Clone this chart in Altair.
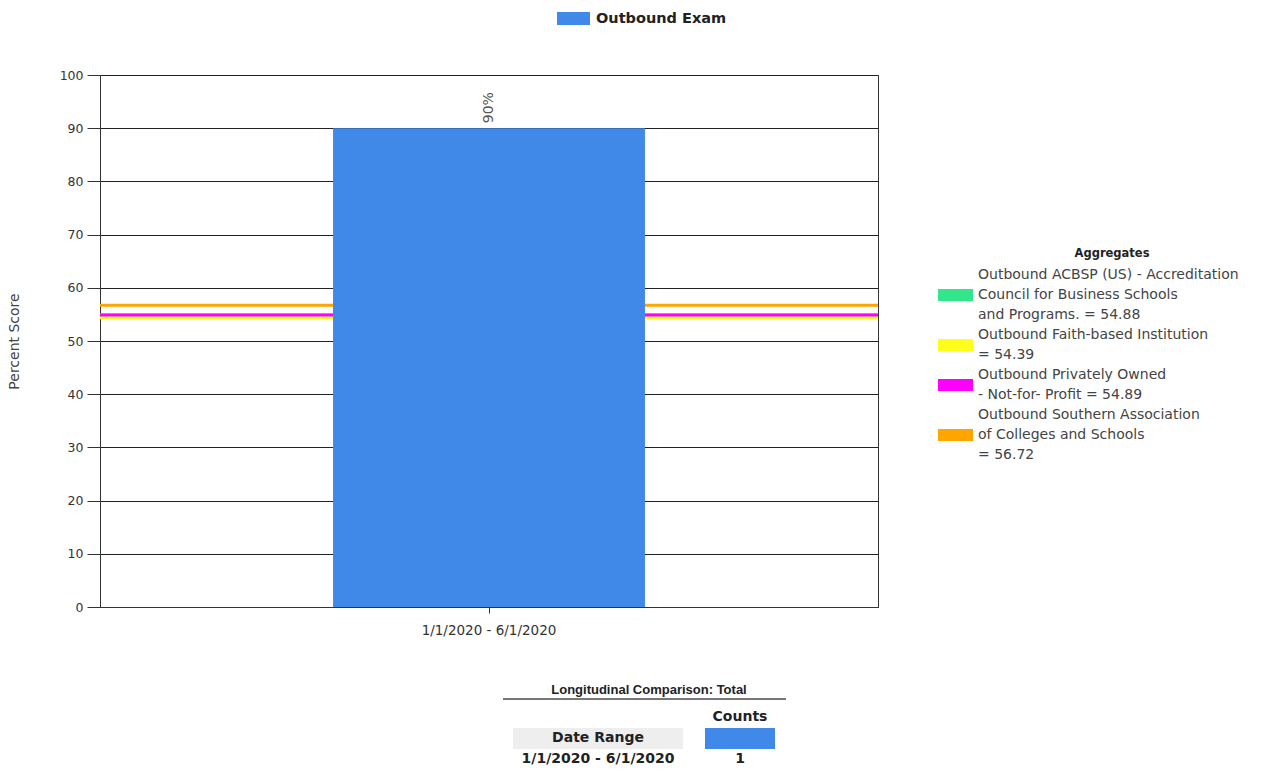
import altair as alt
import pandas as pd

# Exam series (one date range)
date_ranges = ["1/1/2020 - 6/1/2020"]
exam_scores = [90]
exam_series = "Outbound Exam"
exam_counts = [1]

# Aggregate benchmark lines (names are pre-wrapped for the legend)
aggregate_names = [
    "Outbound ACBSP (US) -  Accreditation\nCouncil for Business  Schools\nand  Programs.",
    "Outbound Faith-based  Institution\n",
    "Outbound Privately  Owned\n-  Not-for-  Profit",
    "Outbound Southern  Association\nof Colleges and Schools\n",
]
aggregate_values = [54.88, 54.39, 54.89, 56.72]
aggregate_colors = ["#33E68C", "#FFFF1A", "#FF00FF", "#FFA500"]

legend_title = "Aggregates"
table_title = "Longitudinal Comparison: Total"

bar_blue = "#4189E8"
font = "DejaVu Sans"

# Legend block geometry (plot-area pixel coordinates)
LEG_X = 838          # swatch left edge
LEG_SW = 35          # swatch width
LEG_SH = 12          # swatch height
LEG_TEXT_X = 878     # label left edge
LEG_Y0 = 200         # centre of first label line
LEG_LH = 20          # label line height


def legend_label(name, value):
    sep = "= " if name.endswith("\n") else " = "
    return f"{name}{sep}{value:.2f}"


agg_labels = [legend_label(n, v) for n, v in zip(aggregate_names, aggregate_values)]

# One row per legend text line, plus one swatch row per entry
line_rows, swatch_rows = [], []
k = 0
for label, color in zip(agg_labels, aggregate_colors):
    lines = label.split("\n")
    for i, ln in enumerate(lines):
        line_rows.append({"text": ln, "py": LEG_Y0 + LEG_LH * (k + i)})
    mid = LEG_Y0 + LEG_LH * (k + (len(lines) - 1) / 2)
    swatch_rows.append({"label": label, "color": color,
                        "y1": mid - LEG_SH / 2, "y2": mid + LEG_SH / 2})
    k += len(lines)
legend_lines_df = pd.DataFrame(line_rows)
legend_swatch_df = pd.DataFrame(swatch_rows)

bars_df = pd.DataFrame({
    "range": date_ranges,
    "score": exam_scores,
    "series": [exam_series] * len(date_ranges),
    "pct": [f"{s}%" for s in exam_scores],
})
agg_df = pd.DataFrame({"label": agg_labels, "value": aggregate_values})
table_df = pd.DataFrame({"range": date_ranges[:1], "count": [str(c) for c in exam_counts[:1]]})

x_enc = alt.X(
    "range:N",
    scale=alt.Scale(paddingInner=0, paddingOuter=0.747),
    axis=alt.Axis(title=None, labelAngle=0, tickSize=6, labelPadding=10,
                  labelFontSize=13.5, labelColor="#333", domainColor="#333",
                  tickColor="#333"),
)
y_enc = alt.Y(
    "score:Q",
    scale=alt.Scale(domain=[0, 100], nice=False),
    axis=alt.Axis(title="Percent Score", values=list(range(0, 101, 10)),
                  grid=True, gridColor="#222", gridOpacity=1,
                  tickSize=13, labelPadding=4, labelFontSize=12.5, labelColor="#333",
                  domainColor="#333", tickColor="#333",
                  titleFontSize=14, titleFontWeight="normal", titleColor="#444",
                  titleX=-79, titleY=266),
)

# Horizontal aggregate lines spanning the plot
rules = alt.Chart(agg_df).mark_rule(strokeWidth=3).encode(
    y=alt.Y("value:Q"),
    stroke=alt.Stroke(
        "label:N",
        scale=alt.Scale(domain=agg_labels, range=aggregate_colors),
        legend=None,
    ),
)

bars = alt.Chart(bars_df).mark_bar().encode(
    x=x_enc,
    y=y_enc,
    fill=alt.Fill(
        "series:N",
        scale=alt.Scale(range=[bar_blue]),
        legend=alt.Legend(
            title=None, orient="none", legendX=457, legendY=-73,
            direction="horizontal",
            symbolType="M-1,-0.4H1V0.4H-1Z", symbolSize=1089, symbolStrokeWidth=0,
            labelFont=font, labelFontSize=14.5, labelFontWeight="bold",
            labelColor="#222", labelOffset=6,
        ),
    ),
)

bar_labels = alt.Chart(bars_df).mark_text(
    angle=270, align="left", baseline="middle", dx=5,
    fontSize=14, color="#555", font=font,
).encode(x="range:N", y="score:Q", text="pct:N")

# Aggregates legend, drawn as its own block to the right of the plot
leg_title = alt.Chart(table_df).mark_text(
    font=font, fontSize=11.5, fontWeight="bold", color="#222",
).encode(x=alt.value(1012), y=alt.value(179), text=alt.value(legend_title))
leg_swatches = alt.Chart(legend_swatch_df).mark_rect().encode(
    x=alt.value(LEG_X), x2=alt.value(LEG_X + LEG_SW),
    y=alt.Y("y1:Q", scale=None), y2="y2:Q",
    fill=alt.Fill("color:N", scale=None),
)
leg_text = alt.Chart(legend_lines_df).mark_text(
    font=font, fontSize=14, color="#444", align="left", baseline="middle",
).encode(x=alt.value(LEG_TEXT_X), y=alt.Y("py:Q", scale=None), text="text:N")

# Summary table under the chart
tbl = alt.Chart(table_df)
tbl_title = tbl.mark_text(font="Liberation Sans", fontSize=13, fontWeight="bold",
                          color="#222").encode(
    x=alt.value(549), y=alt.value(615), text=alt.value(table_title))
tbl_line = tbl.mark_rule(color="#777", strokeWidth=2).encode(
    x=alt.value(403), x2=alt.value(686), y=alt.value(624))
counts_hdr = tbl.mark_text(font=font, fontSize=14, fontWeight="bold",
                           color="#222").encode(
    x=alt.value(640), y=alt.value(642), text=alt.value("Counts"))
counts_swatch = tbl.mark_rect(color=bar_blue).encode(
    x=alt.value(605), x2=alt.value(675), y=alt.value(653), y2=alt.value(674))
range_bg = tbl.mark_rect(color="#EEEEEE").encode(
    x=alt.value(413), x2=alt.value(583), y=alt.value(653), y2=alt.value(674))
range_hdr = tbl.mark_text(font=font, fontSize=14, fontWeight="bold",
                          color="#222").encode(
    x=alt.value(498), y=alt.value(663), text=alt.value("Date Range"))
range_val = tbl.mark_text(font=font, fontSize=14, fontWeight="bold",
                          color="#222").encode(
    x=alt.value(498), y=alt.value(684), text="range:N")
count_val = tbl.mark_text(font=font, fontSize=14, fontWeight="bold",
                          color="#222").encode(
    x=alt.value(640), y=alt.value(684), text="count:N")

chart = alt.layer(
    rules, bars, bar_labels,
    leg_title, leg_swatches, leg_text,
    tbl_line, tbl_title, counts_hdr, counts_swatch, range_bg, range_hdr,
    range_val, count_val,
).properties(
    width=778, height=532,
    autosize=alt.AutoSizeParams(type="none"),
    padding={"left": 100, "top": 75, "right": 394, "bottom": 164},
).configure(
    font=font,
    background="white",
).configure_view(
    stroke="#333", strokeWidth=1,
)

chart.save("out.html", embed_options={"renderer": "svg", "actions": False})
